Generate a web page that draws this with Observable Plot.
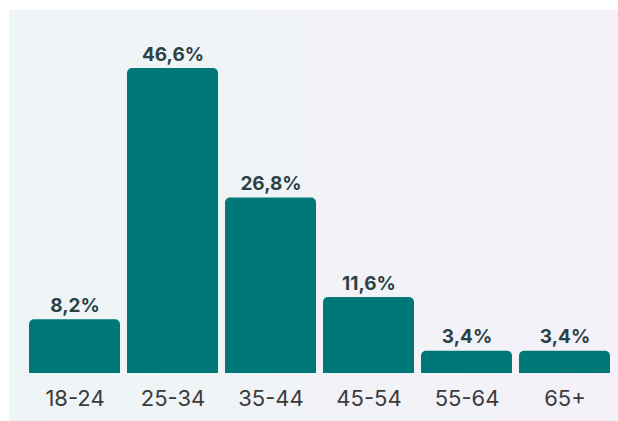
<!DOCTYPE html>
<html>
<head>
<meta charset="utf-8">
<script src="https://cdn.jsdelivr.net/npm/d3@7"></script>
<script src="https://cdn.jsdelivr.net/npm/@observablehq/plot@0.6"></script>
<style>
  html, body { margin: 0; padding: 0; background: #ffffff; }
  #wrap { position: relative; width: 618px; height: 421px; overflow: hidden; }
  #panel { position: absolute; left: 9px; top: 10px; width: 609px; height: 411px;
    background: linear-gradient(90deg, #eef5f6 0%, #f1f3f7 50%, #f4f1f8 100%); }
  #chart { position: absolute; left: 0; top: 0; }
</style>
</head>
<body>
<div id="wrap"><div id="panel"></div><div id="chart"></div></div>
<script>
const categories = ["18-24", "25-34", "35-44", "45-54", "55-64", "65+"];
const values = [8.2, 46.6, 26.8, 11.6, 3.4, 3.4];
const labels = ["8,2%", "46,6%", "26,8%", "11,6%", "3,4%", "3,4%"];

const data = categories.map((c, i) => ({category: c, value: values[i], label: labels[i]}));

const chart = Plot.plot({
  width: 618,
  height: 421,
  marginLeft: 28,
  marginRight: 7,
  marginTop: 68,
  marginBottom: 48,
  style: {background: "transparent", fontFamily: "Inter, 'Open Sans', sans-serif"},
  x: {domain: categories, paddingInner: 0.07, paddingOuter: 0, label: null},
  y: {domain: [0, 46.6], axis: null},
  marks: [
    Plot.barY(data, {x: "category", y: "value", fill: "#017878", ry1: 5}),
    Plot.text(data, {x: "category", y: "value", text: "label", dy: -14, fontSize: 19, fontWeight: 700, fill: "#2b4245"}),
    Plot.axisX({tickSize: 0, tickPadding: 17, fontSize: 22, fill: "#3b3b3b", label: null})
  ]
});
document.getElementById("chart").appendChild(chart);
</script>
</body>
</html>
